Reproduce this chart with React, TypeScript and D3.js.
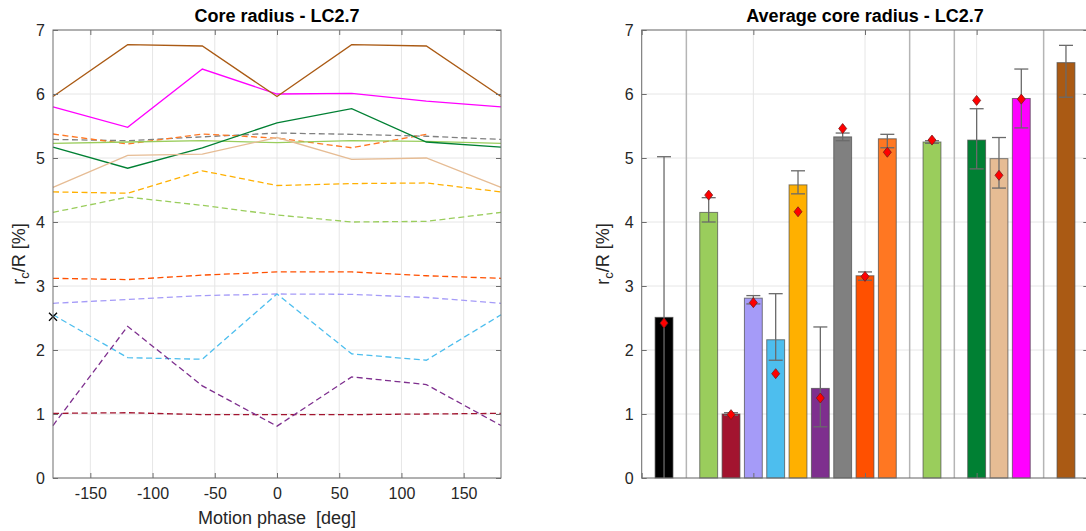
import React, { useRef, useEffect } from 'react';
import * as d3 from 'd3';

// motion phases (deg) for the left panel
const phases = [-180, -120, -60, 0, 60, 120, 180];

// series, in bar order
const seriesNames = [
  'ref', 'g1', 'crimson', 'lavender', 'cyan', 'amber', 'purple', 'gray', 'redorange', 'orange',
  'g2', 'dkgreen', 'tan', 'magenta', 'brown',
];
const seriesColors = [
  '#000000', '#9acd5c', '#a2142f', '#a59bf8', '#4dbeee', '#ffb000', '#7e2f8e', '#808080', '#ff5000', '#ff7722',
  '#9acd5c', '#008033', '#e6bc94', '#ff00ff', '#aa5a14',
];
const seriesDashed = [
  false, true, true, true, true, true, true, true, true, true,
  false, false, false, false, false,
];
const seriesValues: (number[] | null)[] = [
  null,
  [4.15, 4.39, 4.26, 4.11, 4.0, 4.01, 4.15],
  [1.01, 1.02, 0.99, 0.99, 0.99, 1.0, 1.01],
  [2.73, 2.79, 2.85, 2.875, 2.87, 2.82, 2.73],
  [2.55, 1.88, 1.855, 2.875, 1.94, 1.84, 2.55],
  [4.47, 4.45, 4.8, 4.57, 4.6, 4.61, 4.47],
  [0.82, 2.37, 1.44, 0.81, 1.58, 1.46, 0.82],
  [5.29, 5.27, 5.33, 5.39, 5.37, 5.34, 5.29],
  [3.12, 3.1, 3.17, 3.22, 3.22, 3.16, 3.12],
  [5.375, 5.22, 5.375, 5.31, 5.16, 5.37, NaN],
  [5.23, 5.25, 5.27, 5.24, 5.27, 5.26, 5.23],
  [5.17, 4.84, 5.16, 5.55, 5.77, 5.25, 5.17],
  [4.54, 5.04, 5.06, 5.32, 4.98, 5.0, 4.54],
  [5.8, 5.48, 6.39, 6.0, 6.01, 5.89, 5.8],
  [5.96, 6.77, 6.75, 5.96, 6.77, 6.75, 5.96],
];
const refPoint = { phase: -180, value: 2.52 };

// right panel: slot of each bar, mean, error limits, marker
const barSlots = [1, 3, 4, 5, 6, 7, 8, 9, 10, 11, 13, 15, 16, 17, 19];
const barMeans = [2.51, 4.15, 1.0, 2.81, 2.16, 4.58, 1.4, 5.33, 3.16, 5.3, 5.25, 5.28, 4.99, 5.93, 6.49];
const barHigh = [5.02, 4.38, 1.02, 2.85, 2.88, 4.8, 2.36, 5.39, 3.22, 5.37, 5.27, 5.77, 5.32, 6.39, 6.76];
const barLow = [0, 4.0, 0.98, 2.72, 1.84, 4.44, 0.8, 5.27, 3.09, 5.16, 5.23, 4.83, 4.53, 5.47, 5.95];
const barMarker: (number | null)[] = [2.42, 4.42, 0.99, 2.74, 1.63, 4.16, 1.25, 5.46, 3.15, 5.09, 5.28, 5.9, 4.73, 5.92, null];
const separatorSlots = [2, 12, 14, 18];

const yTicks = [0, 1, 2, 3, 4, 5, 6, 7];
const phaseTicks = [-150, -100, -50, 0, 50, 100, 150];
const slotTicks = [0, 5, 10, 15, 20];

const FONT = '"Liberation Sans", Arial, sans-serif';
const TXT = '#262626';
const AX = '#6e6e6e';
const GRID = '#e6e6e6';

const App = () => {
  const ref = useRef<SVGSVGElement>(null);

  useEffect(() => {
    const svg = d3.select(ref.current);
    svg.selectAll('*').remove();

    // ---------- left panel ----------
    const L = { left: 53, right: 501, top: 30, bottom: 478 };
    const x = d3.scaleLinear().domain([-180, 180]).range([L.left, L.right]);
    const y = d3.scaleLinear().domain([0, 7]).range([L.bottom, L.top]);

    const gl = svg.append('g');
    gl.selectAll('.vg').data(phaseTicks).enter().append('line')
      .attr('x1', d => x(d)).attr('x2', d => x(d))
      .attr('y1', L.top).attr('y2', L.bottom)
      .attr('stroke', GRID).attr('stroke-width', 1);
    gl.selectAll('.hg').data(yTicks).enter().append('line')
      .attr('x1', L.left).attr('x2', L.right)
      .attr('y1', d => y(d)).attr('y2', d => y(d))
      .attr('stroke', GRID).attr('stroke-width', 1);

    const line = d3.line<number>()
      .defined(d => !isNaN(d))
      .x((_, i) => x(phases[i]))
      .y(d => y(d));

    seriesValues.forEach((vals, i) => {
      if (!vals) return;
      gl.append('path')
        .datum(vals)
        .attr('fill', 'none')
        .attr('stroke', seriesColors[i])
        .attr('stroke-width', 1.3)
        .attr('stroke-dasharray', seriesDashed[i] ? '6,3.5' : null)
        .attr('d', line);
    });

    // reference point marker (x)
    const px = x(refPoint.phase), py = y(refPoint.value), s = 4;
    gl.append('path')
      .attr('d', `M${px - s},${py - s}L${px + s},${py + s}M${px - s},${py + s}L${px + s},${py - s}`)
      .attr('stroke', '#000').attr('stroke-width', 1.3);

    // axes box
    gl.append('rect')
      .attr('x', L.left).attr('y', L.top)
      .attr('width', L.right - L.left).attr('height', L.bottom - L.top)
      .attr('fill', 'none').attr('stroke', AX).attr('stroke-width', 1);

    const xAxis = d3.axisBottom(x).tickValues(phaseTicks).tickSizeInner(-5).tickSizeOuter(0).tickPadding(10);
    gl.append('g').attr('transform', `translate(0,${L.bottom})`).call(xAxis)
      .call(g => g.select('.domain').remove())
      .call(g => g.selectAll('line').attr('stroke', AX))
      .call(g => g.selectAll('text').attr('fill', TXT).style('font-size', '16px').style('font-family', FONT)
        .text(d => (d as number) < 0 ? '-' + Math.abs(d as number) : String(d)));
    const xTop = d3.axisTop(x).tickValues(phaseTicks).tickSizeInner(-5).tickSizeOuter(0).tickFormat(() => '');
    gl.append('g').attr('transform', `translate(0,${L.top})`).call(xTop)
      .call(g => g.select('.domain').remove())
      .call(g => g.selectAll('line').attr('stroke', AX));

    const yAxis = d3.axisLeft(y).tickValues(yTicks).tickFormat(d3.format('d')).tickSizeInner(-5).tickSizeOuter(0).tickPadding(8);
    gl.append('g').attr('transform', `translate(${L.left},0)`).call(yAxis)
      .call(g => g.select('.domain').remove())
      .call(g => g.selectAll('line').attr('stroke', AX))
      .call(g => g.selectAll('text').attr('fill', TXT).style('font-size', '16px').style('font-family', FONT));
    const yRight = d3.axisRight(y).tickValues(yTicks).tickSizeInner(-5).tickSizeOuter(0).tickFormat(() => '');
    gl.append('g').attr('transform', `translate(${L.right},0)`).call(yRight)
      .call(g => g.select('.domain').remove())
      .call(g => g.selectAll('line').attr('stroke', AX));

    gl.append('text')
      .attr('x', (L.left + L.right) / 2).attr('y', 22)
      .attr('text-anchor', 'middle')
      .style('font-family', FONT).style('font-size', '18px').style('font-weight', 'bold')
      .attr('fill', '#000')
      .text('Core radius - LC2.7');

    gl.append('text')
      .attr('x', (L.left + L.right) / 2).attr('y', 524)
      .attr('text-anchor', 'middle')
      .style('font-family', FONT).style('font-size', '18px')
      .attr('fill', TXT)
      .attr('xml:space', 'preserve')
      .text('Motion phase  [deg]');

    const addYLabel = (g: d3.Selection<SVGGElement, unknown, null, undefined>, cx: number, cy: number) => {
      const t = g.append('text')
        .attr('transform', `translate(${cx},${cy}) rotate(-90)`)
        .attr('text-anchor', 'middle')
        .style('font-family', FONT).style('font-size', '18px')
        .attr('fill', TXT);
      t.append('tspan').text('r');
      t.append('tspan').attr('dy', 4).style('font-size', '13px').text('c');
      t.append('tspan').attr('dy', -4).text('/R [%]');
    };
    addYLabel(gl, 25, (L.top + L.bottom) / 2);

    // ---------- right panel ----------
    const R = { left: 641.7, top: 30, bottom: 478 };
    const slotW = 22.33;
    const xr = d3.scaleLinear().domain([0, 20]).range([R.left, R.left + 20 * slotW]);
    const R_right = xr(20);
    const gr = svg.append('g');

    gr.selectAll('.vg').data(slotTicks).enter().append('line')
      .attr('x1', d => xr(d)).attr('x2', d => xr(d))
      .attr('y1', R.top).attr('y2', R.bottom)
      .attr('stroke', GRID).attr('stroke-width', 1);
    gr.selectAll('.hg').data(yTicks).enter().append('line')
      .attr('x1', R.left).attr('x2', R_right)
      .attr('y1', d => y(d)).attr('y2', d => y(d))
      .attr('stroke', GRID).attr('stroke-width', 1);

    gr.selectAll('.sep').data(separatorSlots).enter().append('line')
      .attr('x1', d => xr(d)).attr('x2', d => xr(d))
      .attr('y1', R.top).attr('y2', R.bottom)
      .attr('stroke', '#b5b5b5').attr('stroke-width', 1.5);

    const bw = slotW * 0.8;
    gr.selectAll('.bar').data(barMeans).enter().append('rect')
      .attr('x', (_, i) => xr(barSlots[i]) - bw / 2)
      .attr('y', d => y(d))
      .attr('width', bw)
      .attr('height', d => y(0) - y(d))
      .attr('fill', (_, i) => seriesColors[i])
      .attr('stroke', '#4a4a4a').attr('stroke-opacity', 0.7).attr('stroke-width', 1);

    // error bars
    const cap = 7;
    barMeans.forEach((_, i) => {
      const cx = xr(barSlots[i]);
      const eg = gr.append('g').attr('stroke', '#6a6a6a').attr('stroke-width', 1.3);
      eg.append('line').attr('x1', cx).attr('x2', cx).attr('y1', y(barHigh[i])).attr('y2', y(barLow[i]));
      eg.append('line').attr('x1', cx - cap).attr('x2', cx + cap).attr('y1', y(barHigh[i])).attr('y2', y(barHigh[i]));
      if (barLow[i] > 0)
        eg.append('line').attr('x1', cx - cap).attr('x2', cx + cap).attr('y1', y(barLow[i])).attr('y2', y(barLow[i]));
    });

    // markers
    gr.selectAll('.mk').data(barMarker.map((v, i) => ({ v, i })).filter(d => d.v !== null)).enter()
      .append('path')
      .attr('d', d => {
        const cx = xr(barSlots[d.i]), cy = y(d.v as number);
        return `M${cx},${cy - 5}L${cx + 4},${cy}L${cx},${cy + 5}L${cx - 4},${cy}Z`;
      })
      .attr('fill', '#ff0000').attr('stroke', '#7a1a1a').attr('stroke-width', 0.8);

    gr.append('rect')
      .attr('x', R.left).attr('y', R.top)
      .attr('width', R_right - R.left).attr('height', R.bottom - R.top)
      .attr('fill', 'none').attr('stroke', AX).attr('stroke-width', 1);

    const xrB = d3.axisBottom(xr).tickValues(slotTicks).tickSizeInner(-5).tickSizeOuter(0).tickFormat(() => '');
    gr.append('g').attr('transform', `translate(0,${R.bottom})`).call(xrB)
      .call(g => g.select('.domain').remove())
      .call(g => g.selectAll('line').attr('stroke', AX));
    const xrT = d3.axisTop(xr).tickValues(slotTicks).tickSizeInner(-5).tickSizeOuter(0).tickFormat(() => '');
    gr.append('g').attr('transform', `translate(0,${R.top})`).call(xrT)
      .call(g => g.select('.domain').remove())
      .call(g => g.selectAll('line').attr('stroke', AX));

    const yrAxis = d3.axisLeft(y).tickValues(yTicks).tickFormat(d3.format('d')).tickSizeInner(-5).tickSizeOuter(0).tickPadding(8);
    gr.append('g').attr('transform', `translate(${R.left},0)`).call(yrAxis)
      .call(g => g.select('.domain').remove())
      .call(g => g.selectAll('line').attr('stroke', AX))
      .call(g => g.selectAll('text').attr('fill', TXT).style('font-size', '16px').style('font-family', FONT));
    const yrRight = d3.axisRight(y).tickValues(yTicks).tickSizeInner(-5).tickSizeOuter(0).tickFormat(() => '');
    gr.append('g').attr('transform', `translate(${R_right},0)`).call(yrRight)
      .call(g => g.select('.domain').remove())
      .call(g => g.selectAll('line').attr('stroke', AX));

    gr.append('text')
      .attr('x', (R.left + R_right) / 2).attr('y', 22)
      .attr('text-anchor', 'middle')
      .style('font-family', FONT).style('font-size', '18px').style('font-weight', 'bold')
      .attr('fill', '#000')
      .text('Average core radius - LC2.7');

    addYLabel(gr, 609, (R.top + R.bottom) / 2);
  }, []);

  return (
    <>
      <style>{'body{margin:0;overflow:hidden}'}</style>
      <svg ref={ref} width={1086} height={531} style={{ display: 'block', background: '#fff' }}></svg>
    </>
  );
};

export default App;
